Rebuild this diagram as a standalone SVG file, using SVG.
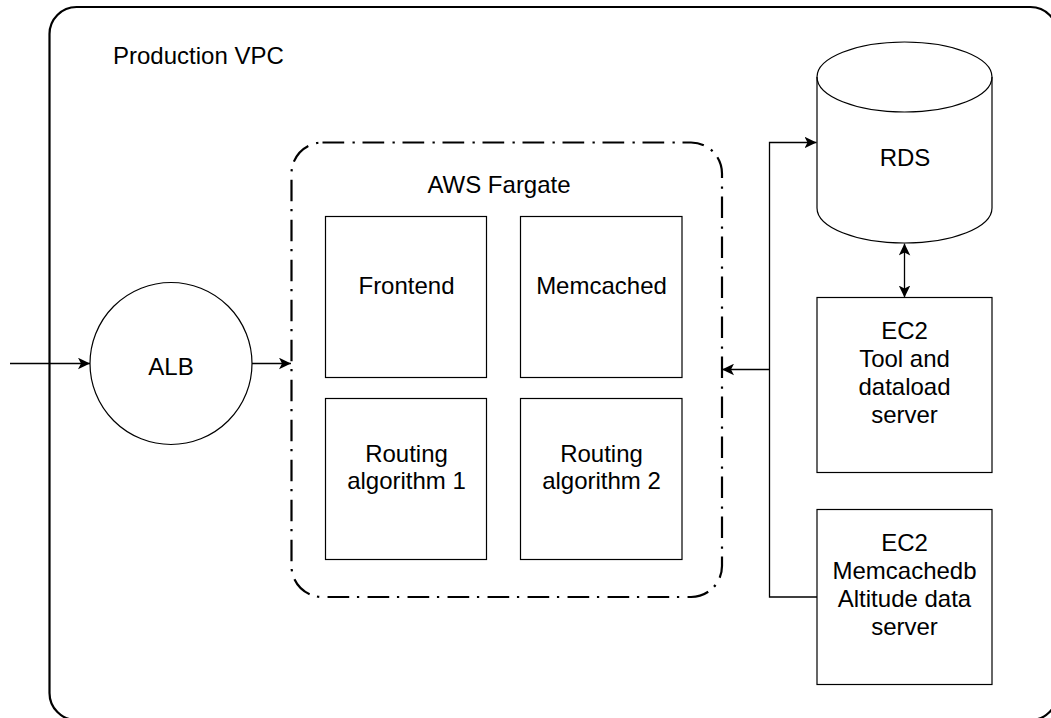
<svg xmlns="http://www.w3.org/2000/svg" width="1051" height="718" viewBox="0 0 1051 718">
  <style>
    .lbl { font-family: "Liberation Sans", Arial, Helvetica, sans-serif; font-size: 24px; fill: #000; }
    .c { text-anchor: middle; }
    .box { fill: #fff; stroke: #000; stroke-width: 1.2; }
    .edge { fill: none; stroke: #000; stroke-width: 1.3; }
  </style>
  <defs>
    <marker id="arr" viewBox="0 0 12 12" refX="12" refY="6" markerWidth="12" markerHeight="12" markerUnits="userSpaceOnUse" orient="auto-start-reverse">
      <path d="M0,0.2 L12,6 L0,11.8 L3,6 Z" fill="#000"/>
    </marker>
  </defs>
  <rect width="1051" height="718" fill="#fff"/>

  <g id="vpc">
    <rect x="49.5" y="7" width="1008" height="713" rx="27" ry="27" fill="none" stroke="#000" stroke-width="2.2"/>
    <text class="lbl" x="113" y="64">Production VPC</text>
  </g>

  <g id="fargate">
    <rect x="291.5" y="142.5" width="430.5" height="454.5" rx="31" ry="31" fill="none" stroke="#000" stroke-width="2.2" stroke-dasharray="21.7 8.3 2.3 7.7"/>
    <text class="lbl c" x="499" y="192.7">AWS Fargate</text>
  </g>

  <g id="frontend">
    <rect class="box" x="325.5" y="216.5" width="161" height="161"/>
    <text class="lbl c" x="406.5" y="294">Frontend</text>
  </g>
  <g id="memcached">
    <rect class="box" x="520.5" y="216.5" width="161.5" height="161"/>
    <text class="lbl c" x="601.5" y="294">Memcached</text>
  </g>
  <g id="routing1">
    <rect class="box" x="325.5" y="398.5" width="161" height="161"/>
    <text class="lbl c" x="406.5" y="462">Routing</text>
    <text class="lbl c" x="406.5" y="489">algorithm 1</text>
  </g>
  <g id="routing2">
    <rect class="box" x="520.5" y="398.5" width="161.5" height="161"/>
    <text class="lbl c" x="601.5" y="462">Routing</text>
    <text class="lbl c" x="601.5" y="489">algorithm 2</text>
  </g>

  <g id="alb">
    <circle cx="171" cy="363.5" r="81" fill="#fff" stroke="#000" stroke-width="1.2"/>
    <text class="lbl c" x="171" y="375">ALB</text>
  </g>

  <g id="rds">
    <path d="M817,77 A87.5,35 0 0 1 992,77 V208 A87.5,35 0 0 1 817,208 Z" fill="#fff" stroke="#000" stroke-width="1.2"/>
    <path d="M817,77 A87.5,35 0 0 0 992,77" fill="none" stroke="#000" stroke-width="1.2"/>
    <text class="lbl c" x="905" y="165.7">RDS</text>
  </g>

  <g id="ec2-tool">
    <rect class="box" x="817" y="297.5" width="175" height="175"/>
    <text class="lbl c" x="904.5" y="339.4">EC2</text>
    <text class="lbl c" x="904.5" y="367.2">Tool and</text>
    <text class="lbl c" x="904.5" y="395">dataload</text>
    <text class="lbl c" x="904.5" y="422.7">server</text>
  </g>

  <g id="ec2-memcachedb">
    <rect class="box" x="817" y="509.5" width="175" height="175"/>
    <text class="lbl c" x="904.5" y="550.7">EC2</text>
    <text class="lbl c" x="904.5" y="578.7">Memcachedb</text>
    <text class="lbl c" x="904.5" y="606.7">Altitude data</text>
    <text class="lbl c" x="904.5" y="634.7">server</text>
  </g>

  <g id="connectors">
    <path class="edge" d="M10,363.5 H90" marker-end="url(#arr)"/>
    <path class="edge" d="M252,363.5 H291" marker-end="url(#arr)"/>
    <path class="edge" d="M817,597 H769.5 V142.5 H816.5" marker-end="url(#arr)"/>
    <path class="edge" d="M769.5,369.5 H722" marker-end="url(#arr)"/>
    <path class="edge" d="M904.5,243.5 V297.5" marker-start="url(#arr)" marker-end="url(#arr)"/>
  </g>
</svg>
